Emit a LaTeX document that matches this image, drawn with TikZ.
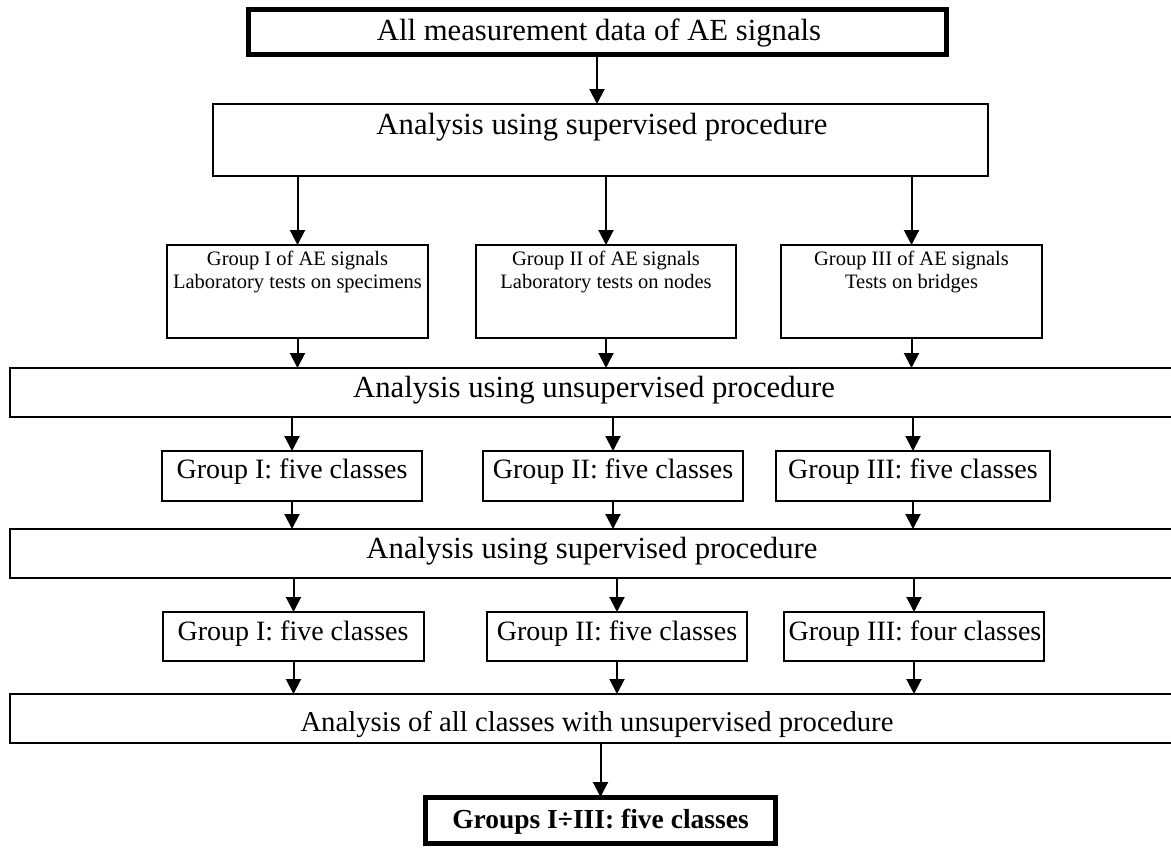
\documentclass[tikz,border=0pt]{standalone}
\usepackage{fontspec}
\setmainfont{Liberation Serif}
\usetikzlibrary{arrows.meta}
\begin{document}
\begin{tikzpicture}[x=1pt,y=-1pt,
 box/.style={draw, line width=1.5pt, inner sep=0pt, outer sep=0pt, anchor=north west},
 widebox/.style={box, line width=2pt},
 thickbox/.style={box, line width=5pt},
 arr/.style={line width=2pt, -{Triangle[length=15pt,width=15pt]}},
 big/.style={font=\fontsize{30.7}{34}\selectfont, inner sep=0pt, anchor=base},
 bigb/.style={font=\fontsize{28.7}{32}\selectfont, inner sep=0pt, anchor=base},
 mid/.style={font=\fontsize{28}{32}\selectfont, inner sep=0pt, anchor=base},
 small/.style={font=\fontsize{20.5}{23}\selectfont, inner sep=0pt, anchor=base},
 boldtxt/.style={font=\fontsize{27.5}{31}\selectfont\bfseries, inner sep=0pt, anchor=base},
]
\useasboundingbox (0,0) rectangle (1171,847);
% boxes
\node[thickbox, minimum width=698pt, minimum height=45pt] (top) at (248,9) {};
\node[widebox, minimum width=775pt, minimum height=72pt] (sup1) at (213,104) {};
\node[box, minimum width=261pt, minimum height=93pt] (g1) at (167,245) {};
\node[box, minimum width=260pt, minimum height=93pt] (g2) at (476,245) {};
\node[box, minimum width=261pt, minimum height=93pt] (g3) at (781,245) {};
\node[widebox, minimum width=1200pt, minimum height=49pt] (unsup) at (10,368) {};
\node[box, minimum width=260pt, minimum height=50pt] (c1) at (162,451) {};
\node[box, minimum width=260pt, minimum height=50pt] (c2) at (483,451) {};
\node[box, minimum width=274pt, minimum height=50pt] (c3) at (776,451) {};
\node[widebox, minimum width=1200pt, minimum height=49pt] (sup2) at (10,529) {};
\node[box, minimum width=261pt, minimum height=49pt] (d1) at (163,612) {};
\node[box, minimum width=260pt, minimum height=49pt] (d2) at (487,612) {};
\node[box, minimum width=260pt, minimum height=49pt] (d3) at (784,612) {};
\node[widebox, minimum width=1200pt, minimum height=49pt] (fin) at (10,694) {};
\node[thickbox, minimum width=350pt, minimum height=46pt] (res) at (425.5,797) {};
% texts
\node[big] (t0) at (599,40) {All measurement data of AE signals};
\node[big] (t1) at (602,134) {Analysis using supervised procedure};
\node[small] (g1a) at (297.5,265) {Group I of AE signals};
\node[small] (g1b) at (297.5,288) {Laboratory tests on specimens};
\node[small] (g2a) at (606,265) {Group II of AE signals};
\node[small] (g2b) at (606,288) {Laboratory tests on nodes};
\node[small] (g3a) at (911.5,265) {Group III of AE signals};
\node[small] (g3b) at (911.5,288) {Tests on bridges};
\node[big] (t2) at (594,397) {Analysis using unsupervised procedure};
\node[mid] (c1t) at (292,478) {Group I: five classes};
\node[mid] (c2t) at (613,478) {Group II: five classes};
\node[mid] (c3t) at (913,478) {Group III: five classes};
\node[big] (t3) at (592,558) {Analysis using supervised procedure};
\node[mid] (d1t) at (293,640) {Group I: five classes};
\node[mid] (d2t) at (617,640) {Group II: five classes};
\node[mid] (d3t) at (915,640) {Group III: four classes};
\node[bigb] (t4) at (597,731) {Analysis of all classes with unsupervised procedure};
\node[boldtxt] (t5) at (600.5,828) {Groups I÷III: five classes};
% arrows
\draw[arr] (top.south) -- (top.south |- sup1.north);
\foreach \g in {g1,g2,g3} {
  \draw[arr] (\g.north |- sup1.south) -- (\g.north);
  \draw[arr] (\g.south) -- (\g.south |- unsup.north);
}
\foreach \c in {c1,c2,c3} {
  \draw[arr] (\c.north |- unsup.south) -- (\c.north);
  \draw[arr] (\c.south) -- (\c.south |- sup2.north);
}
\foreach \d in {d1,d2,d3} {
  \draw[arr] (\d.north |- sup2.south) -- (\d.north);
  \draw[arr] (\d.south) -- (\d.south |- fin.north);
}
\draw[arr] (res.north |- fin.south) -- (res.north);
\end{tikzpicture}
\end{document}
